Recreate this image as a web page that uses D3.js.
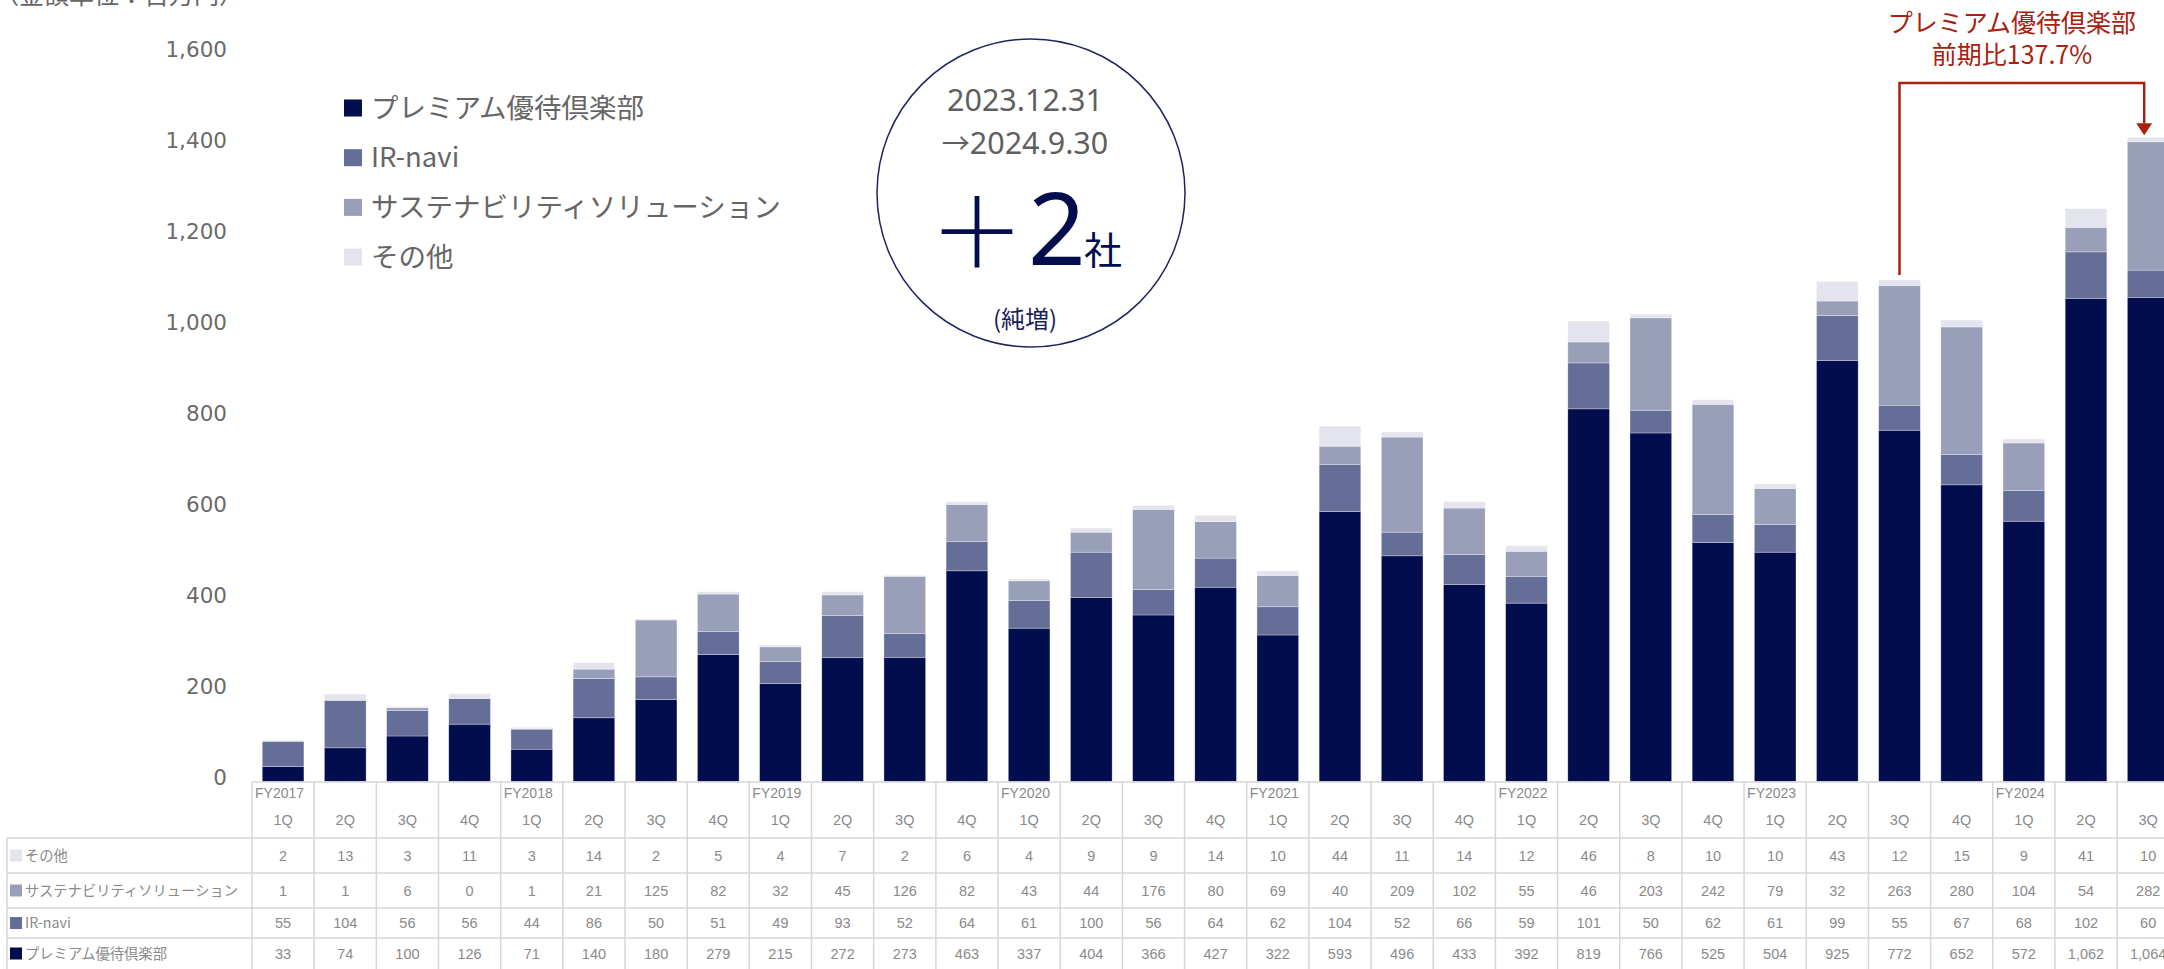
<!DOCTYPE html>
<html>
<head>
<meta charset="utf-8">
<script src="https://cdn.jsdelivr.net/npm/d3@7"></script>
<style>
	body { margin: 0; background: #fff; overflow: hidden; }
	svg { display: block; }
	.jp { font-family: 'Noto Sans CJK JP', 'Noto Sans', sans-serif; }
	.num { font-family: 'DejaVu Sans', sans-serif; }
	.cell { font-family: 'Liberation Sans', sans-serif; }
</style>
</head>
<body>
<script>
const WIDTH = 2164;
const HEIGHT = 969;

const FISCAL_YEARS = ['FY2017', 'FY2018', 'FY2019', 'FY2020', 'FY2021', 'FY2022', 'FY2023', 'FY2024'];
const QUARTERS = ['1Q', '2Q', '3Q', '4Q'];

const KEYS = ['premium', 'irnavi', 'sustain', 'other'];
const NAMES = {
	premium: 'プレミアム優待倶楽部',
	irnavi: 'IR-navi',
	sustain: 'サステナビリティソリューション',
	other: 'その他'
};
const COLORS = {
	premium: '#020d4e',
	irnavi: '#656e97',
	sustain: '#9a9fb9',
	other: '#e3e4ee'
};

const premium = [33, 74, 100, 126, 71, 140, 180, 279, 215, 272, 273, 463, 337, 404, 366, 427, 322, 593, 496, 433, 392, 819, 766, 525, 504, 925, 772, 652, 572, 1062, 1064];
const irnavi = [55, 104, 56, 56, 44, 86, 50, 51, 49, 93, 52, 64, 61, 100, 56, 64, 62, 104, 52, 66, 59, 101, 50, 62, 61, 99, 55, 67, 68, 102, 60];
const sustain = [1, 1, 6, 0, 1, 21, 125, 82, 32, 45, 126, 82, 43, 44, 176, 80, 69, 40, 209, 102, 55, 46, 203, 242, 79, 32, 263, 280, 104, 54, 282];
const other = [2, 13, 3, 11, 3, 14, 2, 5, 4, 7, 2, 6, 4, 9, 9, 14, 10, 44, 11, 14, 12, 46, 8, 10, 10, 43, 12, 15, 9, 41, 10];

const Y_TICKS = [0, 200, 400, 600, 800, 1000, 1200, 1400, 1600];

// periods: FY2017 1Q .. FY2024 3Q
const periods = FISCAL_YEARS.flatMap(fy => QUARTERS.map(q => ({ fy, q, id: `${fy} ${q}` }))).slice(0, premium.length);
const series = { premium, irnavi, sustain, other };
const rows = periods.map((p, i) => ({
	...p,
	premium: premium[i],
	irnavi: irnavi[i],
	sustain: sustain[i],
	other: other[i]
}));

const COL_START = 252;
const COL_STEP = 62.17;
const BASE_Y = 781.5;
const TOP_Y = 53.5;

const svg = d3.select('body').append('svg')
	.attr('width', WIDTH)
	.attr('height', HEIGHT);

const cols = d3.scaleBand()
	.domain(periods.map(d => d.id))
	.range([COL_START, COL_START + COL_STEP * periods.length]);

const x = d3.scaleBand()
	.domain(periods.map(d => d.id))
	.range([COL_START, COL_START + COL_STEP * periods.length])
	.paddingInner(0.33)
	.paddingOuter(0.165);

const y = d3.scaleLinear().domain([0, 1600]).range([BASE_Y, TOP_Y]);

// unit note, cut off at the top like the source
svg.append('text')
	.attr('class', 'jp')
	.attr('x', -6)
	.attr('y', 4)
	.attr('font-size', 25)
	.attr('fill', '#666')
	.text('（金額単位：百万円）');

// y axis
const axisY = d3.axisLeft(y)
	.tickValues(Y_TICKS)
	.tickFormat(d3.format(','))
	.tickSize(0)
	.tickPadding(0);

svg.append('g')
	.attr('class', 'axis--y num')
	.attr('transform', 'translate(227, -3.5)')
	.call(axisY)
	.call(g => g.select('.domain').remove())
	.call(g => g.selectAll('text')
		.attr('font-size', 21.5)
		.attr('font-family', 'DejaVu Sans, sans-serif')
		.attr('fill', '#6b6b6b'));

// stacked bars
const stacked = d3.stack().keys(KEYS)(rows);

svg.append('g')
	.attr('class', 'g-bars')
	.selectAll('g')
	.data(stacked)
	.join('g')
	.attr('fill', d => COLORS[d.key])
	.selectAll('rect')
	.data(d => d)
	.join('rect')
	.attr('x', d => x(d.data.id))
	.attr('width', x.bandwidth())
	.attr('y', d => y(d[1]))
	.attr('height', d => Math.max(0, y(d[0]) - y(d[1])))
	.attr('stroke', '#fff')
	.attr('stroke-opacity', 0.5)
	.attr('stroke-width', 0.6);

// legend
const legend = svg.append('g')
	.attr('class', 'legend jp')
	.selectAll('g')
	.data(KEYS)
	.join('g')
	.attr('transform', (d, i) => `translate(344, ${108 + i * 49.7})`);

legend.append('rect')
	.attr('x', 0)
	.attr('y', -8.5)
	.attr('width', 18)
	.attr('height', 17)
	.attr('fill', d => COLORS[d]);

legend.append('text')
	.attr('x', 27)
	.attr('y', 0)
	.attr('dy', '0.35em')
	.attr('font-size', 27.5)
	.attr('fill', '#666')
	.text(d => NAMES[d]);

// circle callout
const callout = svg.append('g').attr('class', 'callout');
callout.append('circle')
	.attr('cx', 1031)
	.attr('cy', 193)
	.attr('r', 154)
	.attr('fill', '#fff')
	.attr('stroke', '#1f2560')
	.attr('stroke-width', 1.5);

callout.append('text')
	.attr('x', 1025)
	.attr('y', 111)
	.attr('text-anchor', 'middle')
	.attr('font-family', 'Noto Sans, sans-serif')
	.attr('font-size', 30.5)
	.attr('fill', '#5f5f5f')
	.text('2023.12.31');

const dateTo = callout.append('text')
	.attr('x', 1025)
	.attr('y', 154)
	.attr('text-anchor', 'middle')
	.attr('font-family', 'Noto Sans, sans-serif')
	.attr('font-size', 30.5)
	.attr('fill', '#5f5f5f');
dateTo.append('tspan')
	.attr('font-family', 'Noto Sans CJK JP, sans-serif')
	.attr('font-size', 28)
	.text('→');
dateTo.append('tspan').text('2024.9.30');

callout.append('text')
	.attr('class', 'jp')
	.attr('x', 977)
	.attr('y', 233)
	.attr('dy', '0.35em')
	.attr('text-anchor', 'middle')
	.attr('font-size', 96)
	.attr('font-weight', 300)
	.attr('fill', '#020d4e')
	.text('＋');

callout.append('text')
	.attr('x', 1028)
	.attr('y', 265)
	.attr('font-family', 'Noto Sans, sans-serif')
	.attr('font-size', 101)
	.attr('fill', '#020d4e')
	.text('2');

callout.append('text')
	.attr('class', 'jp')
	.attr('x', 1084)
	.attr('y', 264)
	.attr('font-size', 38)
	.attr('fill', '#020d4e')
	.text('社');

callout.append('text')
	.attr('class', 'jp')
	.attr('x', 1025)
	.attr('y', 328)
	.attr('text-anchor', 'middle')
	.attr('font-size', 24)
	.attr('fill', '#1a2058')
	.text('(純増)');

// annotation: growth vs previous period
const RED = '#a8210f';
const fromId = 'FY2023 3Q';
const toId = 'FY2024 3Q';
const total = id => {
	const r = rows.find(d => d.id === id);
	return d3.sum(KEYS, k => r[k]);
};
const fromX = x(fromId) + x.bandwidth() / 2;
const toX = x(toId) + x.bandwidth() / 2 - 4;
const lineY = 83;

svg.append('path')
	.attr('d', `M${fromX},${y(total(fromId)) - 5}V${lineY}H${toX}V${y(total(toId)) - 14}`)
	.attr('fill', 'none')
	.attr('stroke', RED)
	.attr('stroke-width', 2.5);

svg.append('path')
	.attr('d', `M${toX - 8},${y(total(toId)) - 14}L${toX + 8},${y(total(toId)) - 14}L${toX},${y(total(toId)) - 2}Z`)
	.attr('fill', RED);

svg.append('text')
	.attr('class', 'jp')
	.attr('x', 2012)
	.attr('y', 23)
	.attr('dy', '0.35em')
	.attr('text-anchor', 'middle')
	.attr('font-size', 25)
	.attr('fill', RED)
	.text('プレミアム優待倶楽部');

svg.append('text')
	.attr('class', 'jp')
	.attr('x', 2012)
	.attr('y', 55)
	.attr('dy', '0.35em')
	.attr('text-anchor', 'middle')
	.attr('font-size', 25)
	.attr('fill', RED)
	.text('前期比137.7%');

// data table
const ROW_LINES = [782, 838, 873, 908, 938, 975];
const TABLE_ROWS = ['other', 'sustain', 'irnavi', 'premium'];
const GRID = '#d6d6d6';
const TEXT = '#8a8a8a';
const table = svg.append('g').attr('class', 'table');
const right = COL_START + COL_STEP * periods.length;

table.append('line')
	.attr('x1', COL_START).attr('x2', right)
	.attr('y1', ROW_LINES[0]).attr('y2', ROW_LINES[0])
	.attr('stroke', GRID).attr('stroke-width', 1.5);

ROW_LINES.slice(1).forEach(ly => {
	table.append('line')
		.attr('x1', 7).attr('x2', right)
		.attr('y1', ly).attr('y2', ly)
		.attr('stroke', GRID).attr('stroke-width', 1.5);
});

table.append('line')
	.attr('x1', 7).attr('x2', 7)
	.attr('y1', ROW_LINES[1]).attr('y2', HEIGHT)
	.attr('stroke', GRID).attr('stroke-width', 1.5);

table.selectAll('.col-line')
	.data(periods)
	.join('line')
	.attr('class', 'col-line')
	.attr('x1', d => cols(d.id)).attr('x2', d => cols(d.id))
	.attr('y1', ROW_LINES[0]).attr('y2', HEIGHT)
	.attr('stroke', GRID).attr('stroke-width', 1.5);

table.selectAll('.fy')
	.data(periods.filter(d => d.q === '1Q'))
	.join('text')
	.attr('class', 'fy cell')
	.attr('x', d => cols(d.id) + 3)
	.attr('y', 793)
	.attr('dy', '0.35em')
	.attr('font-size', 14)
	.attr('fill', TEXT)
	.text(d => d.fy);

table.selectAll('.q')
	.data(periods)
	.join('text')
	.attr('class', 'q cell')
	.attr('x', d => cols(d.id) + cols.bandwidth() / 2)
	.attr('y', 820)
	.attr('dy', '0.35em')
	.attr('text-anchor', 'middle')
	.attr('font-size', 14.5)
	.attr('fill', TEXT)
	.text(d => d.q);

TABLE_ROWS.forEach((key, r) => {
	const cy = (ROW_LINES[r + 1] + Math.min(ROW_LINES[r + 2], 969)) / 2;
	table.append('rect')
		.attr('x', 10).attr('y', cy - 6)
		.attr('width', 12).attr('height', 12)
		.attr('fill', COLORS[key]);
	table.append('text')
		.attr('class', 'jp')
		.attr('x', 25)
		.attr('y', cy)
		.attr('dy', '0.35em')
		.attr('font-size', 14.3)
		.attr('fill', TEXT)
		.text(NAMES[key]);
	table.selectAll(`.v-${key}`)
		.data(series[key])
		.join('text')
		.attr('class', `v-${key} cell`)
		.attr('x', (d, i) => cols(periods[i].id) + cols.bandwidth() / 2)
		.attr('y', cy)
		.attr('dy', '0.35em')
		.attr('text-anchor', 'middle')
		.attr('font-size', 14.5)
		.attr('fill', TEXT)
		.text(d => d3.format(',')(d));
});
</script>
</body>
</html>
